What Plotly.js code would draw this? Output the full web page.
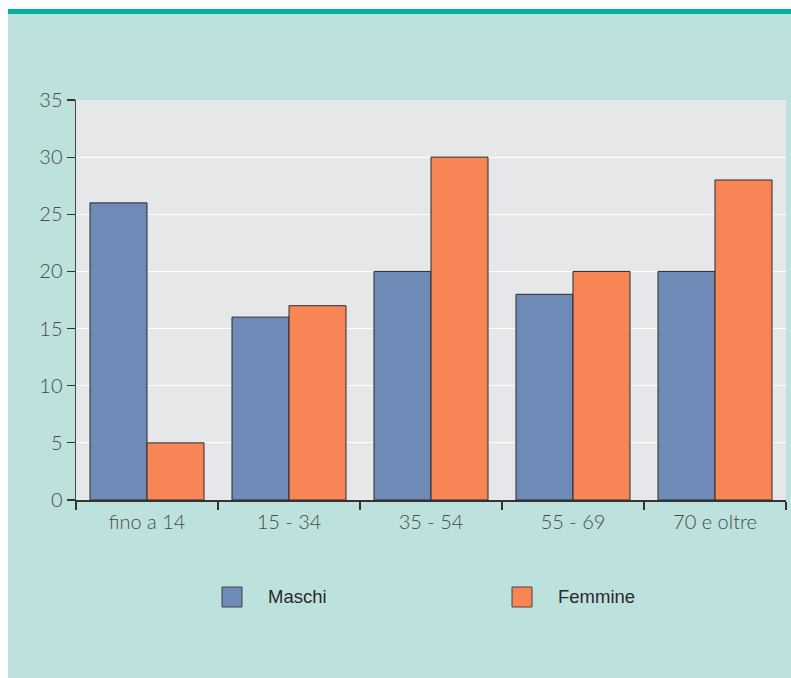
<!DOCTYPE html>
<html>
<head>
<meta charset="utf-8">
<script src="https://cdn.plot.ly/plotly-3.0.1.min.js"></script>
<style>
html,body{margin:0;padding:0;background:#ffffff;}
#chart{position:absolute;left:8px;top:9px;width:783px;height:669px;}
</style>
</head>
<body>
<div id="chart"></div>
<script>
var categories = ["fino a 14", "15 - 34", "35 - 54", "55 - 69", "70 e oltre"];
var maschi = [26, 16, 20, 18, 20];
var femmine = [5, 17, 30, 20, 28];
var seriesNames = ["Maschi", "Femmine"];
var yTicks = [0, 5, 10, 15, 20, 25, 30, 35];

var colBlue = "#6e8bb8";
var colOrange = "#f78556";

var traces = [
  {type: "bar", name: seriesNames[0], x: categories, y: maschi,
   marker: {color: colBlue, line: {color: "#2b2b2b", width: 1}}, showlegend: false, hoverinfo: "x+y"},
  {type: "bar", name: seriesNames[1], x: categories, y: femmine,
   marker: {color: colOrange, line: {color: "#2b2b2b", width: 1}}, showlegend: false, hoverinfo: "x+y"}
];

var tickFont = {family: "Lato, 'Open Sans', sans-serif", size: 20, color: "#4a4a4a", weight: 300};
var legFont = {family: "'Liberation Sans', Arial, sans-serif", size: 18.5, color: "#2a2a2a"};

var layout = {
  width: 783, height: 669,
  margin: {l: 68, r: 5, t: 91, b: 178},
  paper_bgcolor: "#bde2de",
  plot_bgcolor: "#e6e7e8",
  barmode: "group",
  bargap: 0.197,
  bargroupgap: 0,
  xaxis: {
    type: "category",
    tickson: "boundaries",
    ticks: "outside", ticklen: 8, tickwidth: 1.2, tickcolor: "#333333",
    ticklabelstandoff: 3,
    showline: true, linecolor: "#333333", linewidth: 1.5,
    showgrid: false,
    tickfont: tickFont
  },
  yaxis: {
    range: [0, 35],
    tickvals: yTicks,
    ticks: "outside", ticklen: 8, tickwidth: 1.2, tickcolor: "#333333",
    showline: true, linecolor: "#444444", linewidth: 1.5,
    gridcolor: "#ffffff", gridwidth: 1.2,
    zeroline: false,
    tickfont: tickFont
  },
  shapes: [
    {type: "rect", xref: "paper", yref: "paper", x0: -68/710, x1: 1 + 5/710, y0: 1 + 86/400, y1: 1 + 91/400,
     fillcolor: "#00b2a0", line: {width: 0}},
    {type: "rect", xref: "paper", yref: "paper", x0: (222-76)/710, x1: (242-76)/710, y0: (500-587)/400, y1: (500-607)/400,
     fillcolor: colBlue, line: {color: "#444444", width: 1}},
    {type: "rect", xref: "paper", yref: "paper", x0: (512-76)/710, x1: (532-76)/710, y0: (500-587)/400, y1: (500-607)/400,
     fillcolor: colOrange, line: {color: "#444444", width: 1}}
  ],
  annotations: [
    {xref: "paper", yref: "paper", x: (266-76)/710, y: (500-596)/400, xanchor: "left", yanchor: "middle",
     text: seriesNames[0], showarrow: false, font: legFont},
    {xref: "paper", yref: "paper", x: (556-76)/710, y: (500-596)/400, xanchor: "left", yanchor: "middle",
     text: seriesNames[1], showarrow: false, font: legFont}
  ]
};

Plotly.newPlot("chart", traces, layout, {displayModeBar: false, staticPlot: true});
</script>
</body>
</html>
